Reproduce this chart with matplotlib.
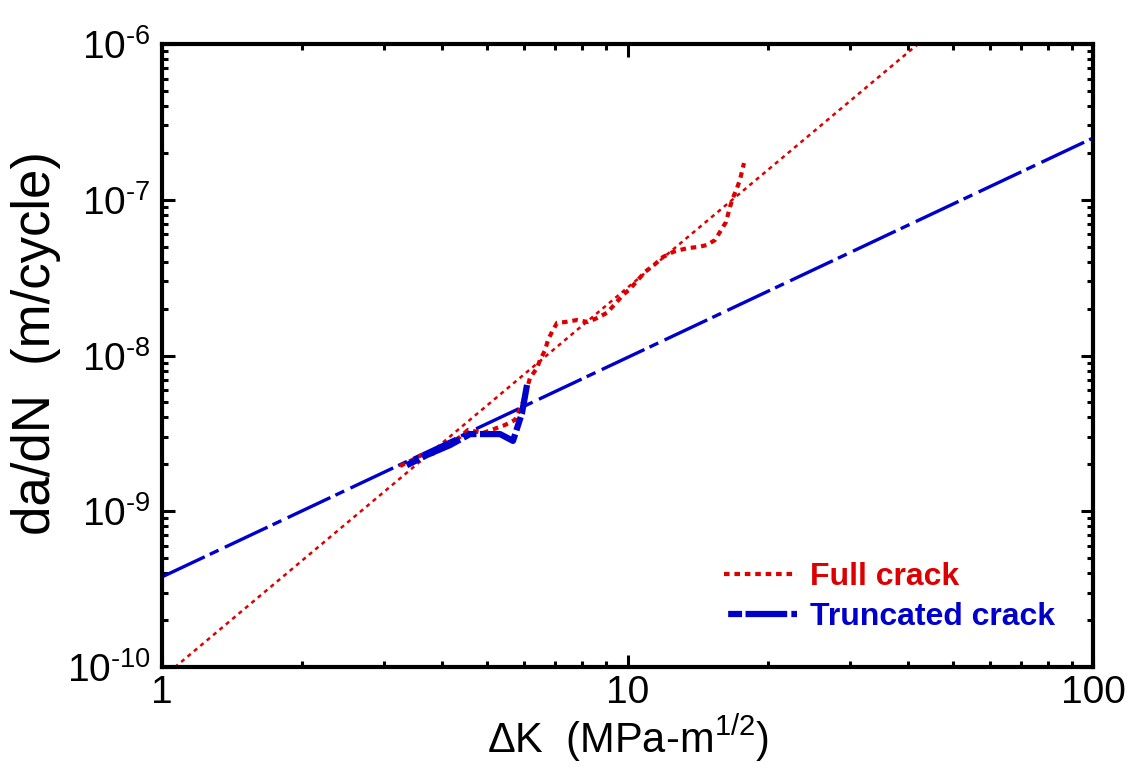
import matplotlib
matplotlib.use('Agg')
import matplotlib.pyplot as plt
from matplotlib.ticker import LogLocator, FixedLocator, NullFormatter, FuncFormatter
import math

plt.rcParams['font.family'] = ['Liberation Sans', 'DejaVu Sans']
plt.rcParams['mathtext.fontset'] = 'custom'
plt.rcParams['mathtext.rm'] = 'Liberation Sans'
plt.rcParams['mathtext.it'] = 'Liberation Sans:italic'
plt.rcParams['mathtext.bf'] = 'Liberation Sans:bold'
plt.rcParams['lines.scale_dashes'] = False

# full crack - measured growth rate
full_dk = [3.245, 3.444, 3.619, 3.802, 3.955, 4.367, 4.544, 4.892, 5.456, 5.731,
           5.964, 6.113, 6.172, 6.391, 6.487, 6.650, 6.750, 6.884, 7.057, 7.341,
           7.790, 8.226, 8.600, 9.036, 9.400, 9.779, 10.12, 10.48, 10.90, 11.40,
           11.92, 12.52, 12.97, 13.49, 14.17, 14.82, 15.42, 15.80, 16.28, 16.60,
           16.85, 17.19, 17.44, 17.79]
full_dadn = [1.95e-9, 2.13e-9, 2.30e-9, 2.33e-9, 2.47e-9, 3.00e-9, 3.33e-9, 3.18e-9, 3.58e-9, 3.86e-9,
             5.03e-9, 6.47e-9, 7.17e-9, 8.31e-9, 9.35e-9, 1.08e-8, 1.26e-8, 1.42e-8, 1.62e-8, 1.64e-8,
             1.69e-8, 1.64e-8, 1.74e-8, 1.88e-8, 2.14e-8, 2.45e-8, 2.67e-8, 3.01e-8, 3.44e-8, 3.81e-8,
             4.29e-8, 4.62e-8, 4.76e-8, 4.90e-8, 4.97e-8, 5.12e-8, 5.52e-8, 6.21e-8, 7.20e-8, 8.98e-8,
             1.03e-7, 1.19e-7, 1.34e-7, 1.72e-7]

# full crack - power law fit
full_fit_dk = [1.0, 50.0]
full_fit_dadn = [8.5e-11, 1.54e-6]

# truncated crack - measured growth rate
trunc_dk = [3.294, 3.710, 4.156, 4.588, 5.323, 5.675, 5.934, 6.083]
trunc_dadn = [1.92e-9, 2.30e-9, 2.66e-9, 3.13e-9, 3.13e-9, 2.83e-9, 4.28e-9, 6.47e-9]

# truncated crack - power law fit
trunc_fit_dk = [1.0, 100.0]
trunc_fit_dadn = [3.79e-10, 2.49e-7]

x_major = [1, 10, 100]
y_major = [1e-10, 1e-9, 1e-8, 1e-7, 1e-6]

red = '#DD0000'
blue = '#0000CC'


def ylabel_fmt(v, pos):
    e = int(round(math.log10(v)))
    return r'$\mathregular{10^{\text{-}%d}}$' % abs(e)


fig = plt.figure(figsize=(11.37, 7.73), dpi=100)
ax = fig.add_axes([0.1425, 0.1371, 0.8188, 0.8060])

ax.plot(full_fit_dk, full_fit_dadn, color=red, lw=1.8, dashes=(3, 3), zorder=2)
ax.plot(trunc_fit_dk, trunc_fit_dadn, color=blue, lw=2.4, dashes=(34, 4, 7, 5), zorder=2)
ax.plot(full_dk, full_dadn, color=red, lw=3.0, dashes=(4, 3.5), zorder=3,
        label='Full crack')
ax.plot(trunc_dk, trunc_dadn, color=blue, lw=4.5, dashes=(0, 3, 10, 2.5, 30, 0), zorder=4,
        label='Truncated crack')

ax.set_xscale('log')
ax.set_yscale('log')
ax.set_xlim(1, 100)
ax.set_ylim(1e-10, 1e-6)

ax.xaxis.set_major_locator(FixedLocator(x_major))
ax.yaxis.set_major_locator(FixedLocator(y_major))
ax.xaxis.set_minor_locator(LogLocator(base=10, subs=range(2, 10)))
ax.yaxis.set_minor_locator(LogLocator(base=10, subs=range(2, 10)))
ax.xaxis.set_major_formatter(FuncFormatter(lambda v, p: f'{v:g}'))
ax.yaxis.set_major_formatter(FuncFormatter(ylabel_fmt))
ax.xaxis.set_minor_formatter(NullFormatter())
ax.yaxis.set_minor_formatter(NullFormatter())

for s in ax.spines.values():
    s.set_linewidth(3)
ax.tick_params(which='both', direction='in', top=True, right=True, labelsize=28, colors='black')
ax.tick_params(which='major', length=9, width=2.2, pad=8)
ax.tick_params(which='minor', length=4.5, width=2.2)
ax.tick_params(axis='x', which='major', pad=6)

ax.set_xlabel(r'$\Delta$K  (MPa-m$^{1/2}$)', fontsize=30, labelpad=1)
ax.set_ylabel('da/dN  (m/cycle)', fontsize=38, labelpad=0)
ax.yaxis.set_label_coords(-0.108, 0.52)

ax.legend(loc='lower right', bbox_to_anchor=(0.99, 0.01), frameon=False,
          prop={'weight': 'bold', 'size': 23}, labelcolor='linecolor',
          handlelength=2.3, handletextpad=0.4, labelspacing=0.3)

fig.savefig('out.png', dpi=100)
